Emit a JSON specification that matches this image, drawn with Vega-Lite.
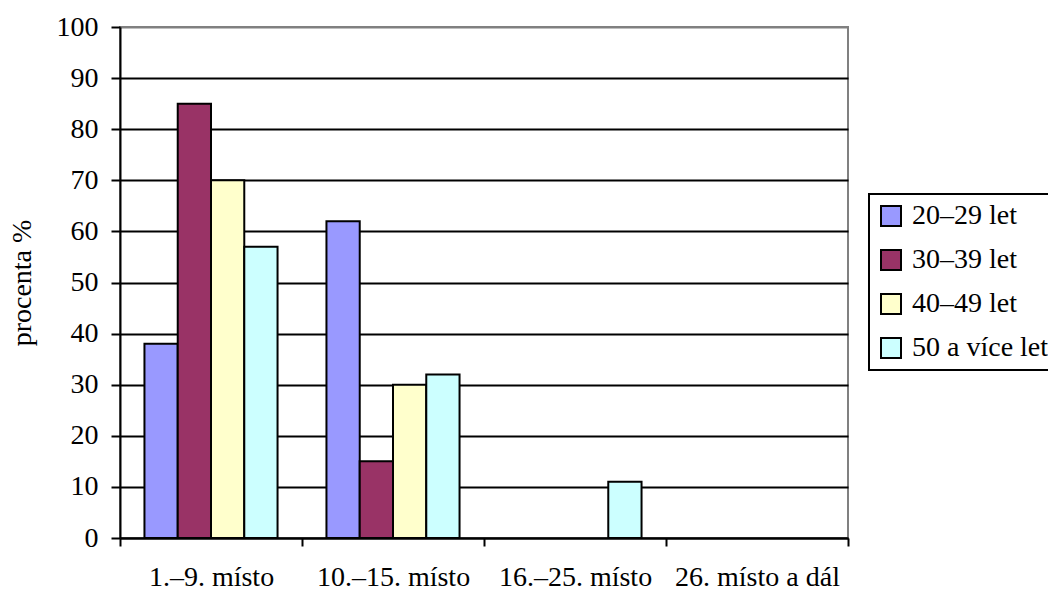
{
  "$schema": "https://vega.github.io/schema/vega-lite/v6.json",
  "autosize": "none",
  "width": 728,
  "height": 511,
  "padding": {"left": 120, "top": 27, "right": 200, "bottom": 56},
  "background": "white",
  "config": {
    "view": {"stroke": "#808080", "strokeWidth": 2},
    "font": "Liberation Serif",
    "legend": {"strokeWidth": 2}
  },
  "data": {
    "values": [
      {"misto": "1.–9. místo", "vek": "20–29 let", "procenta": 38},
      {"misto": "1.–9. místo", "vek": "30–39 let", "procenta": 85},
      {"misto": "1.–9. místo", "vek": "40–49 let", "procenta": 70},
      {"misto": "1.–9. místo", "vek": "50 a více let", "procenta": 57},
      {"misto": "10.–15. místo", "vek": "20–29 let", "procenta": 62},
      {"misto": "10.–15. místo", "vek": "30–39 let", "procenta": 15},
      {"misto": "10.–15. místo", "vek": "40–49 let", "procenta": 30},
      {"misto": "10.–15. místo", "vek": "50 a více let", "procenta": 32},
      {"misto": "16.–25. místo", "vek": "50 a více let", "procenta": 11}
    ]
  },
  "mark": {"type": "bar", "stroke": "black", "strokeWidth": 2},
  "encoding": {
    "x": {
      "field": "misto",
      "type": "nominal",
      "sort": null,
      "scale": {
        "domain": ["1.–9. místo", "10.–15. místo", "16.–25. místo", "26. místo a dál"],
        "paddingInner": 0,
        "paddingOuter": 0
      },
      "axis": {
        "title": null,
        "labelAngle": 0,
        "labelFont": "Liberation Serif",
        "labelFontSize": 28,
        "labelColor": "black",
        "labelPadding": 17,
        "tickBand": "extent",
        "tickColor": "black",
        "tickWidth": 2,
        "tickSize": 8,
        "domainColor": "black",
        "domainWidth": 2,
        "grid": false
      }
    },
    "xOffset": {
      "field": "vek",
      "type": "nominal",
      "scale": {
        "domain": ["20–29 let", "30–39 let", "40–49 let", "50 a více let"],
        "paddingInner": 0,
        "paddingOuter": 0.735
      }
    },
    "y": {
      "field": "procenta",
      "type": "quantitative",
      "scale": {"domain": [0, 100], "nice": false},
      "axis": {
        "title": "procenta %",
        "titleFont": "Liberation Serif",
        "titleFontSize": 28,
        "titleFontWeight": "normal",
        "titleColor": "black",
        "titlePadding": 20,
        "values": [0, 10, 20, 30, 40, 50, 60, 70, 80, 90, 100],
        "labelFont": "Liberation Serif",
        "labelFontSize": 28,
        "labelColor": "black",
        "labelPadding": 13,
        "tickColor": "black",
        "tickWidth": 2,
        "tickSize": 9,
        "domainColor": "black",
        "domainWidth": 2,
        "grid": true,
        "gridWidth": 2,
        "gridOpacity": 1,
        "gridColor": {
          "condition": {"test": "datum.value === 100", "value": "#808080"},
          "value": "black"
        }
      }
    },
    "color": {
      "field": "vek",
      "type": "nominal",
      "scale": {
        "domain": ["20–29 let", "30–39 let", "40–49 let", "50 a více let"],
        "range": ["#9999FF", "#993366", "#FFFFCC", "#CCFFFF"]
      },
      "legend": {
        "title": null,
        "orient": "none",
        "legendX": 749,
        "legendY": 167,
        "symbolType": "square",
        "symbolSize": 400,
        "symbolStrokeColor": "black",
        "symbolStrokeWidth": 2,
        "symbolOpacity": 1,
        "labelFont": "Liberation Serif",
        "labelFontSize": 28,
        "labelColor": "black",
        "labelOffset": 7,
        "labelLimit": 300,
        "rowPadding": 16,
        "padding": 8,
        "strokeColor": "black"
      }
    }
  }
}
